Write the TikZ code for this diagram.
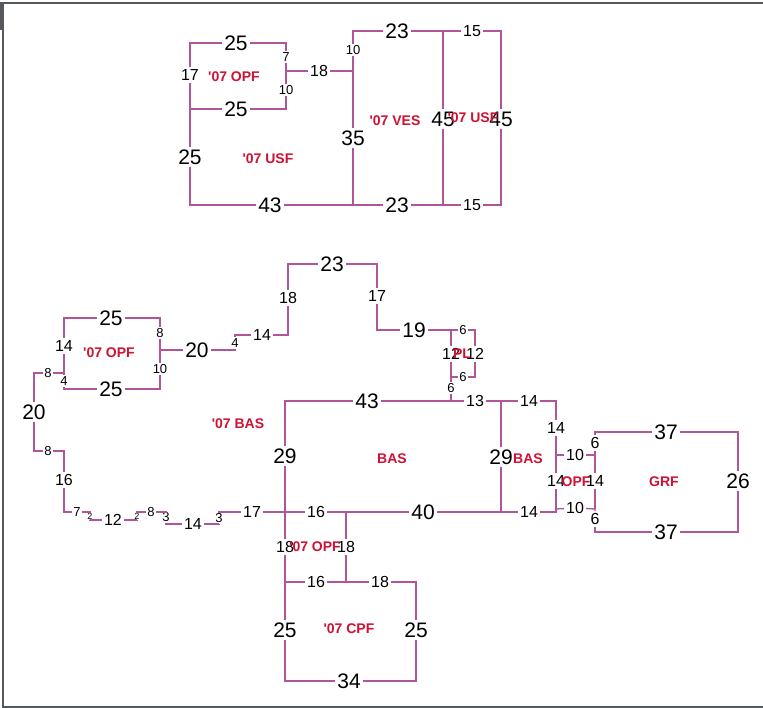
\documentclass[tikz,border=0pt]{standalone}
\usepackage{fontspec}
\setmainfont{Liberation Sans}
\newfontfamily\roomfont[BoldFont={Liberation Sans Bold}]{Liberation Sans}
\definecolor{wall}{HTML}{B0559A}
\definecolor{redlab}{HTML}{CF1233}
\definecolor{framec}{HTML}{55595C}
\tikzset{
  biglab/.style={font=\fontsize{21}{21}\selectfont,text=black,inner sep=2.2pt},
  midlab/.style={font=\fontsize{16}{16}\selectfont,text=black,inner sep=2pt},
  minlab/.style={font=\fontsize{13}{13}\selectfont,text=black,inner sep=1pt},
  tinylab/.style={font=\fontsize{9}{9}\selectfont,text=black,inner sep=0.5pt},
  roomlab/.style={font=\roomfont\bfseries\fontsize{14}{14}\selectfont,text=redlab,inner sep=0pt},
  wallline/.style={draw=wall,line width=1.3pt,line join=miter},
  framel/.style={draw=framec,line width=1.6pt}
}
\begin{document}
\begin{tikzpicture}[x=1pt,y=-1pt]
\useasboundingbox (0,0) rectangle (763,708);
\fill[white] (0,0) rectangle (763,708);
% frame
\coordinate (fa) at (0,3); \coordinate (fb) at (763,3);
\coordinate (fc) at (3,3); \coordinate (fd) at (3,708);
\coordinate (fe) at (1,3); \coordinate (ff) at (1,30);
\coordinate (fg) at (3,707); \coordinate (fh) at (763,707);
\draw[framel] (fa) -- (fb);
\draw[framel] (fc) -- (fd);
\draw[framel] (fe) -- (ff);
\draw[framel] (fg) -- (fh);

% ---------- upper group
\coordinate (a1) at (190,43); \coordinate (a2) at (286,43);
\coordinate (a3) at (286,71); \coordinate (a4) at (286,109);
\coordinate (a5) at (190,109); \coordinate (a6) at (190,205);
\coordinate (a7) at (353,205); \coordinate (a8) at (443,205);
\coordinate (a9) at (501,205); \coordinate (a10) at (501,31);
\coordinate (a11) at (443,31); \coordinate (a12) at (353,31);
\coordinate (a13) at (353,71);
\node[biglab] (u25a) at (236,43) {25};
\node[minlab] (u7) at (286,57) {7};
\node[minlab] (u10a) at (286,90) {10};
\node[biglab] (u25b) at (236,109) {25};
\node[midlab] (u17) at (190,75) {17};
\node[biglab] (u25c) at (190,157) {25};
\node[biglab] (u43) at (270,205) {43};
\node[biglab] (u23a) at (397,205) {23};
\node[midlab] (u15a) at (472,205) {15};
\node[biglab] (u45a) at (501,119) {45};
\node[midlab] (u15b) at (472,31) {15};
\node[biglab] (u23b) at (397,31) {23};
\node[minlab] (u10b) at (353,50) {10};
\node[biglab] (u35) at (353,138) {35};
\node[midlab] (u18) at (319,71) {18};
\node[biglab] (u45b) at (443,119) {45};
\draw[wallline] (u17) -- (a1) -- (u25a);
\draw[wallline] (u25a) -- (a2) -- (u7);
\draw[wallline] (u7) -- (a3) -- (u10a);
\draw[wallline] (u10a) -- (a4) -- (u25b);
\draw[wallline] (u25b) -- (a5);
\draw[wallline] (u17) -- (a5) -- (u25c);
\draw[wallline] (u25c) -- (a6) -- (u43);
\draw[wallline] (u43) -- (a7) -- (u23a);
\draw[wallline] (u23a) -- (a8) -- (u15a);
\draw[wallline] (u15a) -- (a9) -- (u45a);
\draw[wallline] (u45a) -- (a10) -- (u15b);
\draw[wallline] (u15b) -- (a11) -- (u23b);
\draw[wallline] (u23b) -- (a12) -- (u10b);
\draw[wallline] (u10b) -- (a13) -- (u35);
\draw[wallline] (u35) -- (a7);
\draw[wallline] (a3) -- (u18);
\draw[wallline] (u18) -- (a13);
\draw[wallline] (a11) -- (u45b);
\draw[wallline] (u45b) -- (a8);

% ---------- left OPF box and outer loop
\coordinate (b1) at (64,318); \coordinate (b2) at (160,318);
\coordinate (b3) at (160,350); \coordinate (b4) at (160,389);
\coordinate (b5) at (64,389); \coordinate (b6) at (64,373);
\coordinate (b7) at (34,373); \coordinate (b8) at (34,451);
\coordinate (b9) at (64,451); \coordinate (b10) at (64,512);
\coordinate (b11) at (90,512); \coordinate (b12) at (90,520);
\coordinate (b13) at (137,520); \coordinate (b14) at (137,512);
\coordinate (b15) at (166,512); \coordinate (b16) at (166,524);
\coordinate (b17) at (219,524); \coordinate (b18) at (219,512);
\coordinate (b19) at (235,350); \coordinate (b20) at (235,335);
\coordinate (b21) at (288,335); \coordinate (b22) at (288,264);
\coordinate (b23) at (377,264); \coordinate (b24) at (377,330);
\coordinate (b25) at (451,330); \coordinate (b26) at (475,330);
\coordinate (b27) at (475,377); \coordinate (b28) at (451,377);
\node[biglab] (l25a) at (111,318) {25};
\node[minlab] (l8a) at (160,333) {8};
\node[minlab] (l10) at (160,369) {10};
\node[biglab] (l25b) at (111,389) {25};
\node[minlab] (l4a) at (64,381) {4};
\node[midlab] (l14a) at (64,346) {14};
\node[biglab] (l20a) at (197,350) {20};
\node[minlab] (l4b) at (235,343) {4};
\node[midlab] (l14b) at (262,335) {14};
\node[midlab] (l18) at (288,298) {18};
\node[biglab] (l23) at (332,264) {23};
\node[midlab] (l17a) at (377,296) {17};
\node[biglab] (l19) at (414,330) {19};
\node[minlab] (l6a) at (463,330) {6};
\node[midlab] (l12a) at (475,354) {12};
\node[minlab] (l6b) at (463,377) {6};
\node[midlab] (l12b) at (451,354) {12};
\node[minlab] (l6c) at (451,388) {6};
\node[minlab] (l8b) at (48,373) {8};
\node[biglab] (l20b) at (34,412) {20};
\node[minlab] (l8c) at (48,451) {8};
\node[midlab] (l16) at (64,480) {16};
\node[minlab] (l7) at (77,512) {7};
\node[tinylab] (l2a) at (90,516) {2};
\node[midlab] (l12c) at (113,520) {12};
\node[tinylab] (l2b) at (137,516) {2};
\node[minlab] (l8d) at (151,512) {8};
\node[minlab] (l3a) at (166,517) {3};
\node[midlab] (l14c) at (193,524) {14};
\node[minlab] (l3b) at (219,518) {3};
\node[midlab] (l17b) at (252,512) {17};
\draw[wallline] (l14a) -- (b1) -- (l25a);
\draw[wallline] (l25a) -- (b2) -- (l8a);
\draw[wallline] (l8a) -- (b3) -- (l10);
\draw[wallline] (l10) -- (b4) -- (l25b);
\draw[wallline] (l25b) -- (b5) -- (l4a);
\draw[wallline] (l4a) -- (b6) -- (l14a);
\draw[wallline] (b3) -- (l20a);
\draw[wallline] (l20a) -- (b19) -- (l4b);
\draw[wallline] (l4b) -- (b20) -- (l14b);
\draw[wallline] (l14b) -- (b21) -- (l18);
\draw[wallline] (l18) -- (b22) -- (l23);
\draw[wallline] (l23) -- (b23) -- (l17a);
\draw[wallline] (l17a) -- (b24) -- (l19);
\draw[wallline] (l19) -- (b25) -- (l6a);
\draw[wallline] (l6a) -- (b26) -- (l12a);
\draw[wallline] (l12a) -- (b27) -- (l6b);
\draw[wallline] (l6b) -- (b28) -- (l6c);
\draw[wallline] (b25) -- (l12b);
\draw[wallline] (l12b) -- (b28);
\draw[wallline] (b6) -- (l8b);
\draw[wallline] (l8b) -- (b7) -- (l20b);
\draw[wallline] (l20b) -- (b8) -- (l8c);
\draw[wallline] (l8c) -- (b9) -- (l16);
\draw[wallline] (l16) -- (b10) -- (l7);
\draw[wallline] (l7) -- (b11) -- (l2a);
\draw[wallline] (l2a) -- (b12) -- (l12c);
\draw[wallline] (l12c) -- (b13) -- (l2b);
\draw[wallline] (l2b) -- (b14) -- (l8d);
\draw[wallline] (l8d) -- (b15) -- (l3a);
\draw[wallline] (l3a) -- (b16) -- (l14c);
\draw[wallline] (l14c) -- (b17) -- (l3b);
\draw[wallline] (l3b) -- (b18) -- (l17b);

% ---------- BAS block and lower rooms
\coordinate (c1) at (285,401); \coordinate (c2) at (451,401);
\coordinate (c3) at (501,401); \coordinate (c4) at (556,401);
\coordinate (c5) at (285,512); \coordinate (c6) at (346,512);
\coordinate (c7) at (501,512); \coordinate (c8) at (556,512);
\coordinate (c9) at (285,582); \coordinate (c10) at (346,582);
\coordinate (c11) at (416,582); \coordinate (c12) at (285,681);
\coordinate (c13) at (416,681); \coordinate (c14) at (556,455);
\coordinate (c15) at (556,509);
\node[biglab] (m43) at (367,401) {43};
\node[midlab] (m13) at (475,401) {13};
\node[midlab] (m14a) at (529,401) {14};
\node[biglab] (m29a) at (285,456) {29};
\node[midlab] (m18a) at (285,547) {18};
\node[biglab] (m25a) at (285,630) {25};
\node[biglab] (m34) at (349,681) {34};
\node[biglab] (m25b) at (416,630) {25};
\node[midlab] (m18b) at (380,582) {18};
\node[midlab] (m16a) at (316,582) {16};
\node[midlab] (m18c) at (346,547) {18};
\node[midlab] (m16b) at (316,512) {16};
\node[biglab] (m40) at (423,512) {40};
\node[midlab] (m14b) at (529,512) {14};
\node[biglab] (m29b) at (501,457) {29};
\node[midlab] (m14c) at (556,428) {14};
\node[midlab] (m14d) at (556,481) {14};
\draw[wallline] (m29a) -- (c1) -- (m43);
\draw[wallline] (m43) -- (c2) -- (m13);
\draw[wallline] (l6c) -- (c2);
\draw[wallline] (m13) -- (c3) -- (m14a);
\draw[wallline] (m14a) -- (c4) -- (m14c);
\draw[wallline] (m29a) -- (c5) -- (m18a);
\draw[wallline] (m18a) -- (c9) -- (m25a);
\draw[wallline] (m25a) -- (c12) -- (m34);
\draw[wallline] (m34) -- (c13) -- (m25b);
\draw[wallline] (m25b) -- (c11) -- (m18b);
\draw[wallline] (m18b) -- (c10) -- (m16a);
\draw[wallline] (m16a) -- (c9);
\draw[wallline] (c10) -- (m18c);
\draw[wallline] (m18c) -- (c6);
\draw[wallline] (l17b) -- (c5) -- (m16b);
\draw[wallline] (m16b) -- (c6) -- (m40);
\draw[wallline] (m40) -- (c7) -- (m14b);
\draw[wallline] (m14b) -- (c8) -- (c15);
\draw[wallline] (c3) -- (m29b);
\draw[wallline] (m29b) -- (c7);
\draw[wallline] (m14c) -- (c14) -- (m14d);
\draw[wallline] (m14d) -- (c15);

% ---------- right rooms
\coordinate (d1) at (595,432); \coordinate (d2) at (738,432);
\coordinate (d3) at (738,532); \coordinate (d4) at (595,532);
\coordinate (d5) at (595,509); \coordinate (d6) at (595,455);
\node[midlab] (r10a) at (575,455) {10};
\node[midlab] (r10b) at (575,508) {10};
\node[midlab] (r6a) at (595,443) {6};
\node[biglab] (r37a) at (666,432) {37};
\node[biglab] (r26) at (738,481) {26};
\node[biglab] (r37b) at (666,532) {37};
\node[midlab] (r6b) at (595,519) {6};
\node[midlab] (r14) at (595,481) {14};
\draw[wallline] (c14) -- (r10a);
\draw[wallline] (r10a) -- (d6) -- (r6a);
\draw[wallline] (c15) -- (r10b);
\draw[wallline] (r10b) -- (d5) -- (r6b);
\draw[wallline] (r6a) -- (d1) -- (r37a);
\draw[wallline] (r37a) -- (d2) -- (r26);
\draw[wallline] (r26) -- (d3) -- (r37b);
\draw[wallline] (r37b) -- (d4) -- (r6b);
\draw[wallline] (d6) -- (r14);
\draw[wallline] (r14) -- (d5);

% ---------- room labels
\node[roomlab] (ra) at (234,77) {'07 OPF};
\node[roomlab] (rb) at (268,159) {'07 USF};
\node[roomlab] (rc) at (395,121) {'07 VES};
\node[roomlab] (rd) at (473,118) {'07 USF};
\node[roomlab] (re) at (109,353) {'07 OPF};
\node[roomlab] (rf) at (238,424) {'07 BAS};
\node[roomlab] (rg) at (392,459) {BAS};
\node[roomlab] (rh) at (528,459) {BAS};
\node[roomlab] (ri) at (576,482) {OPF};
\node[roomlab] (rj) at (664,482) {GRF};
\node[roomlab] (rk) at (315,547) {'07 OPF};
\node[roomlab] (rl) at (349,629) {'07 CPF};
\node[roomlab] (rm) at (462,354) {PL};
\end{tikzpicture}
\end{document}
